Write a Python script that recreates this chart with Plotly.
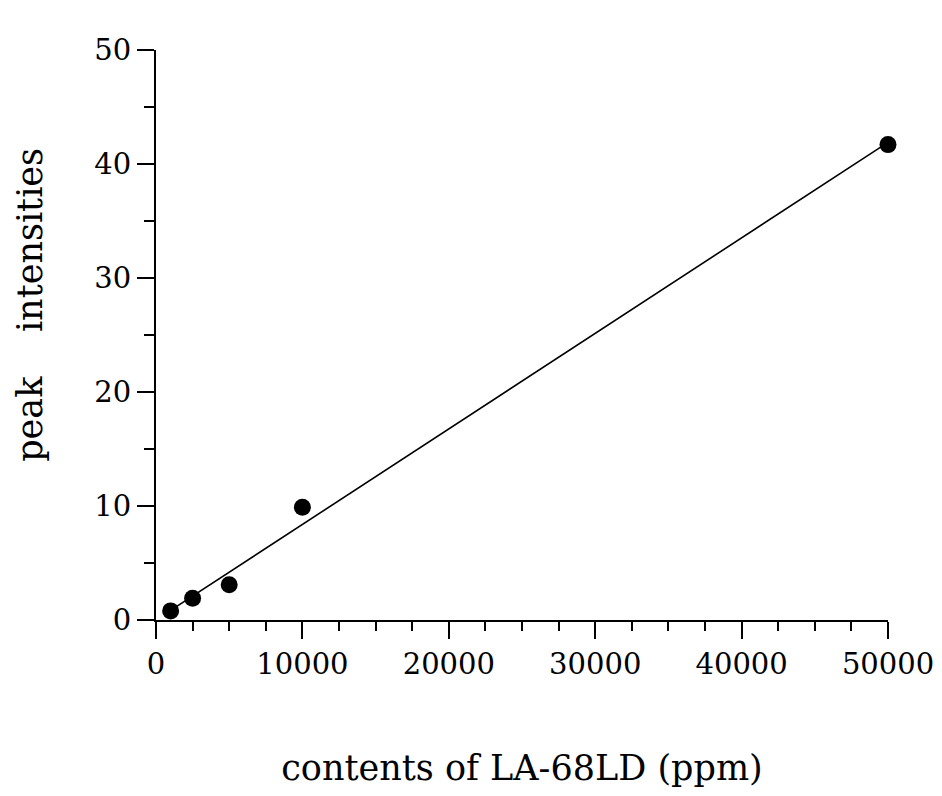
import plotly.graph_objects as go

# measured points
contents_ppm = [1000, 2500, 5000, 10000, 50000]
peak_intensity = [0.8, 1.9, 3.1, 9.9, 41.7]

# fitted line end points
fit_x = [1000, 50000]
fit_y = [0.84, 41.9]

x_ticks = [0, 10000, 20000, 30000, 40000, 50000]
y_ticks = [0, 10, 20, 30, 40, 50]

FONT = "DejaVu Serif"

fig = go.Figure()
fig.add_trace(go.Scatter(x=fit_x, y=fit_y, mode="lines",
                         line=dict(color="black", width=1.6), showlegend=False))
fig.add_trace(go.Scatter(x=contents_ppm, y=peak_intensity, mode="markers",
                         marker=dict(color="black", size=17), cliponaxis=False,
                         showlegend=False))

fig.update_xaxes(
    range=[0, 50000], tickvals=x_ticks, ticktext=[str(v) for v in x_ticks],
    showgrid=False, zeroline=False, showline=True, linecolor="black", linewidth=2,
    ticks="outside", ticklen=17, tickwidth=2, tickcolor="black",
    minor=dict(dtick=2500, ticks="outside", ticklen=9, tickwidth=2, tickcolor="black"),
    tickfont=dict(family=FONT, size=29, color="black"),
    title=dict(text="contents of LA-68LD (ppm)", standoff=76,
               font=dict(family=FONT, size=35, color="black")),
)
fig.update_yaxes(
    range=[0, 50], tickvals=y_ticks,
    showgrid=False, zeroline=False, showline=True, linecolor="black", linewidth=2,
    ticks="outside", ticklen=17, tickwidth=2, tickcolor="black",
    minor=dict(dtick=5, ticks="outside", ticklen=10, tickwidth=2, tickcolor="black"),
    tickfont=dict(family=FONT, size=29, color="black"),
)
# y title sits a bit above the middle in the original
fig.add_annotation(
    text="peak&nbsp;&nbsp;&nbsp;&nbsp;intensities", textangle=-90,
    xref="paper", yref="paper", x=0, y=0.553, xanchor="center", yanchor="middle",
    xshift=-126, showarrow=False,
    font=dict(family=FONT, size=35, color="black"),
)
fig.update_layout(
    width=942, height=796,
    margin=dict(l=148, r=62, t=42, b=184),
    plot_bgcolor="white", paper_bgcolor="white",
)

fig.write_html("out.html")
